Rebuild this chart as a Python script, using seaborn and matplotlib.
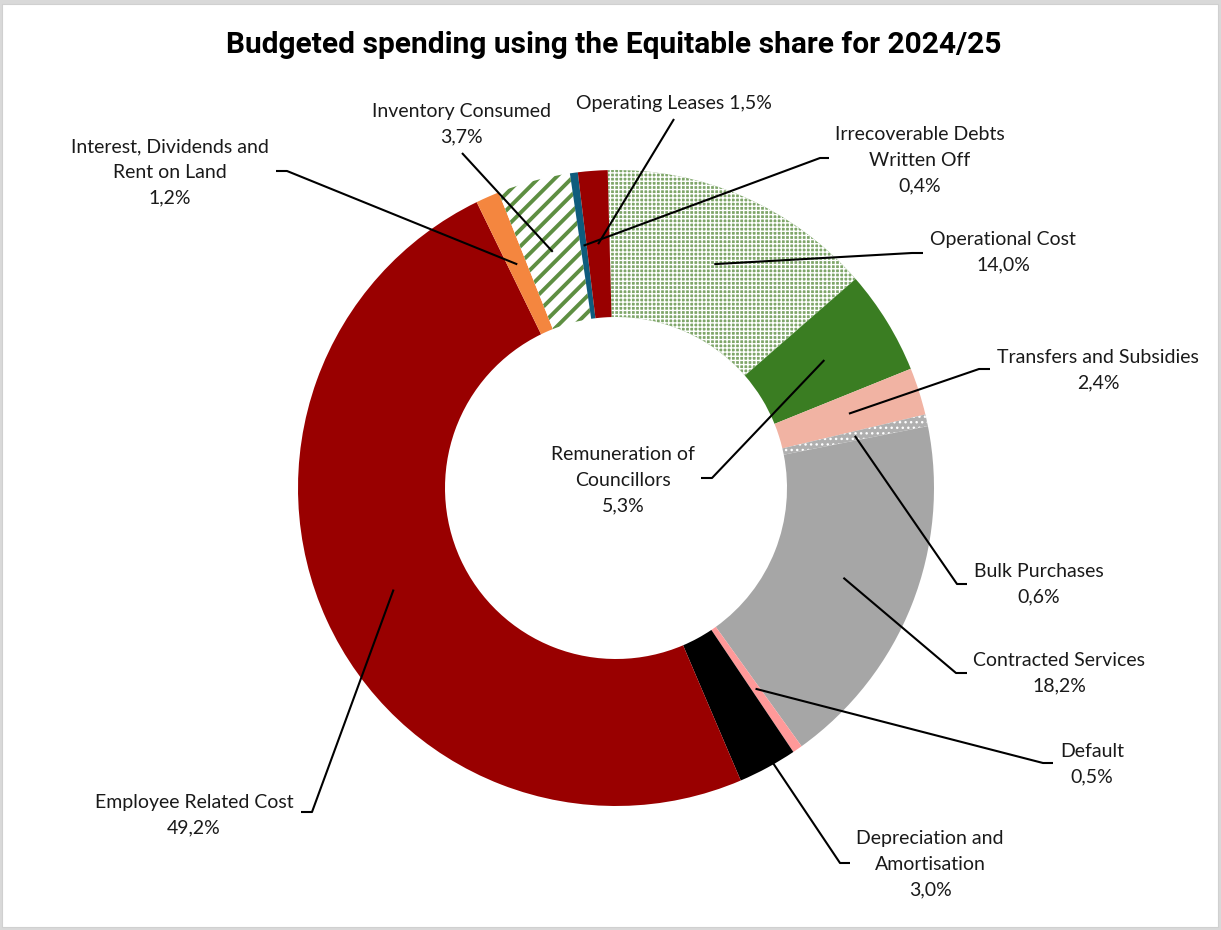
import matplotlib
matplotlib.use("Agg")
import matplotlib.pyplot as plt
import seaborn as sns
import numpy as np
from matplotlib.patches import Rectangle

# ---- data -------------------------------------------------------------
categories = [
    "Operational Cost",
    "Remuneration of\nCouncillors",
    "Transfers and Subsidies",
    "Bulk Purchases",
    "Contracted Services",
    "Default",
    "Depreciation and\nAmortisation",
    "Employee Related Cost",
    "Interest, Dividends and\nRent on Land",
    "Inventory Consumed",
    "Irrecoverable Debts\nWritten Off",
    "Operating Leases",
]
shares = [14.0, 5.3, 2.4, 0.6, 18.2, 0.5, 3.0, 49.2, 1.2, 3.7, 0.4, 1.5]
title = "Budgeted spending using the Equitable share for 2024/25"

# ---- styling ----------------------------------------------------------
face_colors = ["#7FA66A", "#3A7D22", "#F1B3A3", "#B0B0B0", "#A6A6A6", "#FF9999",
               "#000000", "#990000", "#F4863F", "#FFFFFF", "#0F5C7D", "#990000"]
hatches = ["++++", None, None, "...", None, None, None, None, None, "//", None, None]
hatch_colors = ["#FFFFFF", None, None, "#FFFFFF", None, None, None, None, None,
                "#5E8F42", None, None]
hatch_widths = [1.0, 1.0, 1.0, 1.0, 1.0, 1.0, 1.0, 1.0, 1.0, 2.8, 1.0, 1.0]
name_value_sep = ["\n", "\n", "\n", "\n", "\n", "\n", "\n", "\n", "\n", "\n", "\n", " "]

# label layout in pixel space: text centre, leader elbow, leader tail
text_px = [(1003, 252), (623, 480), (1098, 370), (1039, 584), (1059, 673),
           (1092, 764), (930, 864), (194, 815), (170, 172), (461, 124),
           (920, 160), (674, 103)]
elbow_px = [(912, 253), (712, 478), (979, 369), (957, 584), (956, 673),
            (1043, 763), (840, 863), (312, 812), (287, 171), (462, 153),
            (820, 158), (674, 119)]
tail_px = [(923, 253), (701, 478), (990, 369), (967, 584), (967, 673),
           (1053, 763), (850, 863), (301, 812), (276, 171), None,
           (829, 158), None]

W, H = 1221, 930
CX, CY, R = 616, 488, 318
INNER = 171


def to_data(p):
    return ((p[0] - CX) / R, (CY - p[1]) / R)


sns.set_theme(style="white")
plt.rcParams["font.family"] = ["Lato", "DejaVu Sans"]

fig = plt.figure(figsize=(W / 100, H / 100), dpi=100)
fig.patch.set_facecolor("#D9D9D9")
fig.patches.append(Rectangle((2 / W, 3 / H), 1216 / W, 923 / H,
                             transform=fig.transFigure, facecolor="white",
                             edgecolor="#D0D0D0", linewidth=0.8, zorder=-5))

ax = fig.add_axes([0, 0, 1, 1])
ax.patch.set_alpha(0)

ring = 1 - INNER / R
wedges, _ = ax.pie(shares, colors=face_colors, startangle=91.5, counterclock=False,
                   radius=1.0, wedgeprops=dict(width=ring, linewidth=0))

for w, h, hc, hw in zip(wedges, hatches, hatch_colors, hatch_widths):
    if h:
        w.set_hatch(h)
        w.set_edgecolor(hc)
        w.set_linewidth(0)
        if hasattr(w, "set_hatch_linewidth"):
            w.set_hatch_linewidth(hw)

ax.set_xlim(-CX / R, (W - CX) / R)
ax.set_ylim(-(H - CY) / R, CY / R)
ax.set_aspect("auto")
ax.axis("off")

mid_r = 1 - ring / 2
for w, name, val, sep, tp, ep, tl in zip(wedges, categories, shares, name_value_sep,
                                         text_px, elbow_px, tail_px):
    ang = np.deg2rad((w.theta1 + w.theta2) / 2)
    ax_pt = (mid_r * np.cos(ang), mid_r * np.sin(ang))
    e = to_data(ep)
    xs, ys = [ax_pt[0], e[0]], [ax_pt[1], e[1]]
    if tl is not None:
        t = to_data(tl)
        xs.append(t[0])
        ys.append(t[1])
    ax.plot(xs, ys, color="black", linewidth=1.5, solid_capstyle="butt", zorder=5)
    label = f"{name}{sep}{val:.1f}".replace(".", ",") + "%"
    tx, ty = to_data(tp)
    ax.text(tx, ty, label, ha="center", va="center", multialignment="center",
            fontsize=14, color="#1A1A1A", linespacing=1.6, zorder=6)

fig.text(614 / W, 1 - 45 / H, title, ha="center", va="center", fontsize=21.5,
         fontweight="bold", color="black", family=["Roboto", "DejaVu Sans"])

fig.savefig("out.png", dpi=100, facecolor=fig.get_facecolor())
